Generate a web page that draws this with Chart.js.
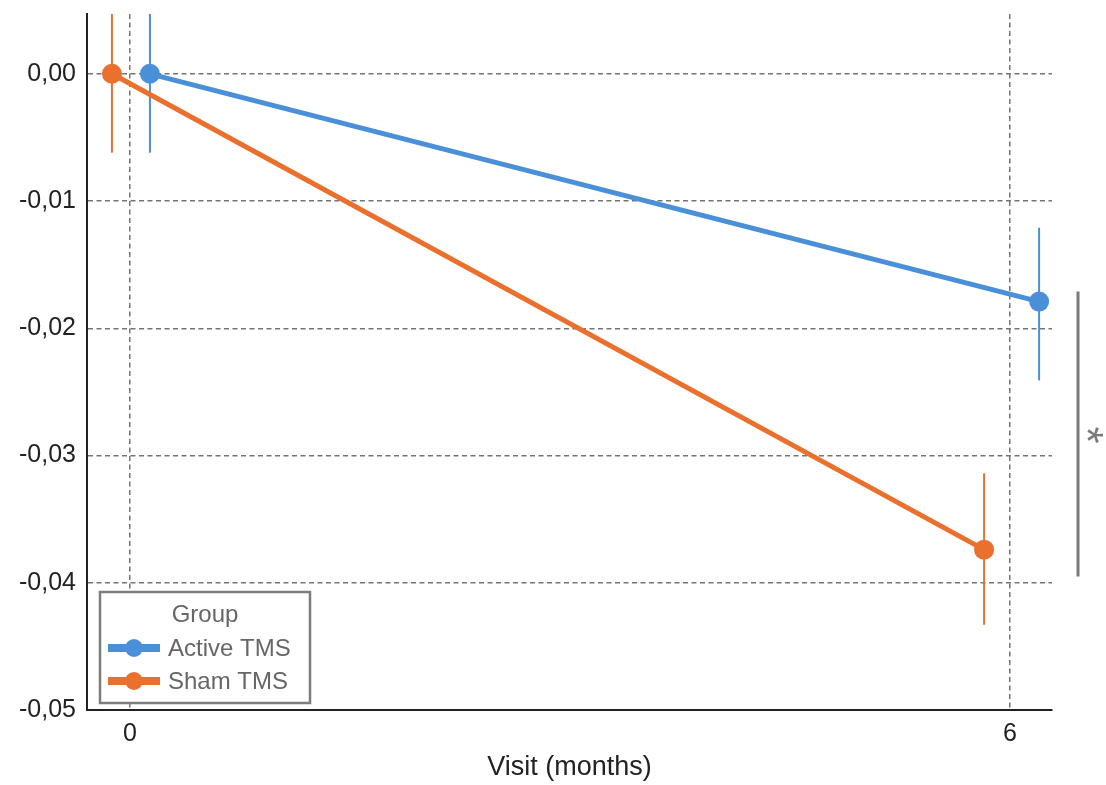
<!DOCTYPE html>
<html>
<head>
<meta charset="utf-8">
<script src="https://cdn.jsdelivr.net/npm/chart.js@4/dist/chart.umd.min.js"></script>
<style>
  html, body { margin: 0; padding: 0; background: #fff; }
  #wrap { width: 1106px; height: 785px; position: relative; }
</style>
</head>
<body>
<div id="wrap"><canvas id="c" width="1106" height="785"></canvas></div>
<script>
// Visits (months) and group labels
const visits = [0, 6];
const groups = ['Active TMS', 'Sham TMS'];
const legendTitle = 'Group';

// Active TMS: dodged x position, mean change, error bar bounds
const activeX = [0.136, 6.198];
const activeMean = [0.0, -0.0179];
const activeLow = [-0.0062, -0.0241];
const activeHigh = [0.0062, -0.0121];

// Sham TMS: dodged x position, mean change, error bar bounds
const shamX = [-0.123, 5.823];
const shamMean = [0.0, -0.0374];
const shamLow = [-0.0062, -0.0433];
const shamHigh = [0.0062, -0.0314];

// Y ticks and significance bracket between the groups at 6 months
const yTicks = [-0.05, -0.04, -0.03, -0.02, -0.01, 0.0];
const sigRange = [-0.0171, -0.0395];
const sigLabel = '*';

const BLUE = '#4A90D9';
const ORANGE = '#EA702E';
const FONT = '"Liberation Sans", Arial, sans-serif';

const toPts = (xs, ys) => xs.map((x, i) => ({ x: x, y: ys[i] }));

const errorBars = {
  id: 'errorBars',
  beforeDatasetsDraw(chart) {
    const { ctx, chartArea: ca, scales: { x, y } } = chart;
    const sets = [
      { xs: activeX, lo: activeLow, hi: activeHigh, color: BLUE },
      { xs: shamX, lo: shamLow, hi: shamHigh, color: ORANGE }
    ];
    ctx.save();
    ctx.beginPath();
    ctx.rect(ca.left, ca.top, ca.right - ca.left, ca.bottom - ca.top);
    ctx.clip();
    ctx.lineWidth = 2;
    sets.forEach(s => {
      ctx.strokeStyle = s.color;
      s.xs.forEach((xv, i) => {
        const px = x.getPixelForValue(xv);
        ctx.beginPath();
        ctx.moveTo(px, y.getPixelForValue(s.hi[i]));
        ctx.lineTo(px, y.getPixelForValue(s.lo[i]));
        ctx.stroke();
      });
    });
    ctx.restore();
  }
};

const extras = {
  id: 'extras',
  afterDraw(chart) {
    const { ctx, chartArea: ca, scales: { y } } = chart;
    ctx.save();
    // significance bracket with rotated asterisk
    const bx = ca.right + 26;
    const y1 = y.getPixelForValue(sigRange[0]);
    const y2 = y.getPixelForValue(sigRange[1]);
    ctx.strokeStyle = '#7a7a7a';
    ctx.lineWidth = 3;
    ctx.beginPath();
    ctx.moveTo(bx, y1);
    ctx.lineTo(bx, y2);
    ctx.stroke();
    ctx.save();
    ctx.font = '44px ' + FONT;
    ctx.textAlign = 'left';
    ctx.textBaseline = 'alphabetic';
    const m = ctx.measureText(sigLabel);
    const gx = (m.actualBoundingBoxRight - m.actualBoundingBoxLeft) / 2;
    const gy = (m.actualBoundingBoxDescent - m.actualBoundingBoxAscent) / 2;
    ctx.translate(ca.right + 43, (y1 + y2) / 2 + 1);
    ctx.rotate(Math.PI / 2);
    ctx.fillStyle = '#7a7a7a';
    ctx.fillText(sigLabel, -gx, -gy);
    ctx.restore();

    // legend box
    const lx = ca.left + 13, ly = ca.bottom - 118, lw = 210, lh = 111;
    ctx.fillStyle = '#ffffff';
    ctx.fillRect(lx, ly, lw, lh);
    ctx.strokeStyle = '#7d7d7d';
    ctx.lineWidth = 2.5;
    ctx.strokeRect(lx, ly, lw, lh);
    ctx.fillStyle = '#666666';
    ctx.font = '24px ' + FONT;
    ctx.textBaseline = 'middle';
    ctx.textAlign = 'center';
    ctx.fillText(legendTitle, lx + 105, ly + 23);
    ctx.textAlign = 'left';
    const colors = [BLUE, ORANGE];
    groups.forEach((g, i) => {
      const cy = ly + 56 + i * 33;
      ctx.strokeStyle = colors[i];
      ctx.lineWidth = 8;
      ctx.beginPath();
      ctx.moveTo(lx + 8, cy);
      ctx.lineTo(lx + 60, cy);
      ctx.stroke();
      ctx.fillStyle = colors[i];
      ctx.beginPath();
      ctx.arc(lx + 34, cy, 9, 0, Math.PI * 2);
      ctx.fill();
      ctx.fillStyle = '#666666';
      ctx.fillText(g, lx + 68, cy + 1);
    });
    ctx.restore();
  }
};

new Chart(document.getElementById('c'), {
  type: 'line',
  data: {
    datasets: [
      {
        label: groups[0],
        data: toPts(activeX, activeMean),
        borderColor: BLUE,
        backgroundColor: BLUE,
        borderWidth: 5,
        pointRadius: 10,
        pointHoverRadius: 10,
        pointBorderWidth: 0
      },
      {
        label: groups[1],
        data: toPts(shamX, shamMean),
        borderColor: ORANGE,
        backgroundColor: ORANGE,
        borderWidth: 5,
        pointRadius: 10,
        pointHoverRadius: 10,
        pointBorderWidth: 0
      }
    ]
  },
  options: {
    responsive: false,
    animation: false,
    devicePixelRatio: 1,
    layout: { padding: { top: 14, right: 54, left: 0, bottom: 0 } },
    plugins: { legend: { display: false }, tooltip: { enabled: false } },
    scales: {
      x: {
        type: 'linear',
        min: -0.293,
        max: 6.286,
        afterBuildTicks: s => { s.ticks = visits.map(v => ({ value: v })); },
        afterFit: s => { s.height = 75; s.paddingLeft = 0; s.paddingRight = 0; },
        grid: { color: '#757575', lineWidth: 1.5, drawTicks: false },
        border: { display: true, color: '#222', width: 2, dash: [5, 3.5] },
        ticks: { color: '#222', font: { size: 25, family: FONT }, padding: 9, callback: v => String(v) },
        title: { display: true, text: 'Visit (months)', color: '#222', font: { size: 27, family: FONT }, padding: { top: 0, bottom: 1 } }
      },
      y: {
        type: 'linear',
        min: -0.05,
        max: 0.0047,
        afterBuildTicks: s => { s.ticks = yTicks.map(v => ({ value: v })); },
        afterFit: s => { s.width = 87; s.paddingTop = 0; s.paddingBottom = 0; },
        grid: { color: '#757575', lineWidth: 1.5, drawTicks: false },
        border: { display: true, color: '#222', width: 2, dash: [5, 3.5] },
        ticks: { color: '#222', font: { size: 25, family: FONT }, padding: 11,
                 callback: v => v.toFixed(2).replace('.', ',') }
      }
    }
  },
  plugins: [errorBars, extras]
});
</script>
</body>
</html>
